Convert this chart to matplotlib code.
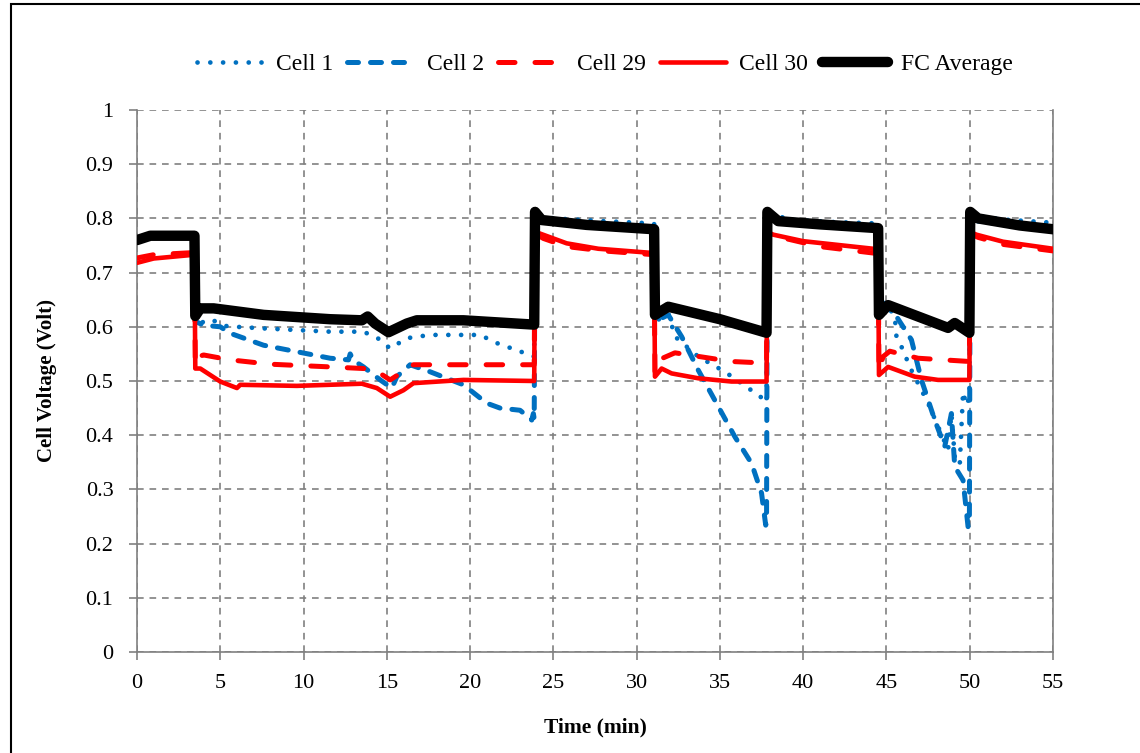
import matplotlib
matplotlib.use("Agg")
import matplotlib.pyplot as plt
from matplotlib.patches import Rectangle

# Cell 1 (dotted)
t_cell1 = [0, 0.8, 3.45,
           3.5, 3.9, 4.4, 5.4, 7.6, 11.6, 13.6, 14.5, 15.2, 16.2, 17.6, 20.6, 21.6, 23.6, 23.85,
           23.9, 24.3, 25, 28, 30.8, 31.05,
           31.1, 31.9, 32.3, 33.7, 35.3, 36.7, 37.7, 37.8,
           37.85, 38.3, 39.5, 42, 44.2, 44.5,
           44.55, 44.9, 45.5, 45.6, 46.0, 46.4, 47.5, 48.1, 48.7, 48.9, 49.1, 49.4, 49.6, 49.8, 49.98,
           50.03, 50.5, 52, 55]
v_cell1 = [0.760, 0.768, 0.768,
           0.606, 0.608, 0.614, 0.601, 0.597, 0.591, 0.591, 0.578, 0.560, 0.579, 0.585, 0.585, 0.570, 0.548, 0.545,
           0.815, 0.805, 0.800, 0.795, 0.791, 0.790,
           0.609, 0.625, 0.582, 0.545, 0.517, 0.487, 0.465, 0.460,
           0.815, 0.805, 0.797, 0.793, 0.791, 0.790,
           0.630, 0.646, 0.619, 0.582, 0.557, 0.526, 0.459, 0.416, 0.373, 0.440, 0.360, 0.345, 0.480, 0.455, 0.470,
           0.815, 0.805, 0.798, 0.792]

# Cell 2 (dashed)
t_cell2 = [0, 0.8, 3.45,
           3.5, 4.0, 5.0, 5.6, 7.6, 9.6, 11.6, 12.7, 12.8, 13.0, 13.6, 14.6, 15.3, 15.6, 16.4, 17.6, 19.6, 21.0, 21.8, 23.0, 23.7, 23.8, 23.85,
           23.9, 24.3, 27, 31.05,
           31.1, 31.9, 32.7, 33.7, 34.9, 35.9, 36.9, 37.5, 37.75, 37.8,
           37.85, 38.5, 41, 44.5,
           44.55, 45.1, 46.5, 47.1, 47.9, 48.5, 48.9, 49.1, 49.6, 49.9, 49.98,
           50.03, 50.5, 53, 55]
v_cell2 = [0.758, 0.766, 0.766,
           0.610, 0.603, 0.600, 0.588, 0.566, 0.554, 0.542, 0.539, 0.550, 0.538, 0.526, 0.502, 0.487, 0.508, 0.530, 0.517, 0.493, 0.459, 0.450, 0.446, 0.428, 0.440, 0.430,
           0.805, 0.795, 0.786, 0.778,
           0.610, 0.622, 0.582, 0.520, 0.453, 0.397, 0.348, 0.293, 0.234, 0.240,
           0.805, 0.793, 0.786, 0.779,
           0.620, 0.643, 0.576, 0.502, 0.428, 0.379, 0.440, 0.342, 0.317, 0.231, 0.240,
           0.805, 0.795, 0.785, 0.780]

# Cell 29 (red dashed)
t_cell29 = [0, 1, 3.45,
            3.5, 3.7, 4.0, 5.6, 8.0, 11.6, 13.6, 14.6, 15.2, 15.8, 16.6, 18.6, 23.85,
            23.9, 24.4, 25.8, 28, 31.05,
            31.1, 31.4, 32.3, 35.7, 37.8,
            37.85, 38.5, 41, 44.5,
            44.55, 44.8, 45.2, 46.9, 49.98,
            50.03, 50.5, 52, 55]
v_cell29 = [0.727, 0.733, 0.737,
            0.530, 0.545, 0.548, 0.539, 0.531, 0.526, 0.523, 0.514, 0.502, 0.514, 0.530, 0.530, 0.530,
            0.772, 0.763, 0.748, 0.740, 0.733,
            0.515, 0.540, 0.552, 0.536, 0.533,
            0.772, 0.766, 0.748, 0.735,
            0.520, 0.545, 0.555, 0.542, 0.536,
            0.772, 0.765, 0.752, 0.740]

# Cell 30 (red solid)
t_cell30 = [0, 1, 3.45,
            3.5, 3.8, 5.0, 6.0, 6.2, 9.6, 13.5, 14.4, 15.2, 16.0, 16.6, 19.6, 23.85,
            23.9, 24.2, 25.8, 27.7, 31.05,
            31.1, 31.5, 32.1, 33.7, 35.7, 37.8,
            37.85, 38.2, 40, 44.5,
            44.55, 45.1, 46.7, 48.1, 49.98,
            50.03, 50.4, 52, 55]
v_cell30 = [0.718, 0.726, 0.733,
            0.523, 0.523, 0.499, 0.487, 0.493, 0.491, 0.495, 0.487, 0.471, 0.483, 0.496, 0.502, 0.500,
            0.775, 0.772, 0.754, 0.744, 0.736,
            0.508, 0.523, 0.514, 0.505, 0.499, 0.499,
            0.775, 0.770, 0.758, 0.743,
            0.511, 0.526, 0.508, 0.502, 0.502,
            0.775, 0.770, 0.757, 0.744]

# FC average (thick black)
t_avg = [0, 0.8, 3.45,
         3.5, 3.8, 4.6, 7.6, 11.6, 13.5, 13.85, 14.3, 15.1, 16.2, 16.8, 19.6, 23.85,
         23.9, 24.3, 27, 31.05,
         31.1, 31.9, 35, 37.8,
         37.85, 38.5, 41, 44.5,
         44.55, 45.1, 48.7, 49.1, 49.98,
         50.03, 50.5, 53, 55]
v_avg = [0.760, 0.768, 0.768,
         0.620, 0.634, 0.634, 0.622, 0.614, 0.612, 0.619, 0.606, 0.590, 0.606, 0.612, 0.612, 0.604,
         0.812, 0.797, 0.788, 0.780,
         0.622, 0.637, 0.614, 0.589,
         0.812, 0.795, 0.789, 0.782,
         0.622, 0.640, 0.598, 0.607, 0.589,
         0.812, 0.800, 0.787, 0.780]

x_ticks = list(range(0, 60, 5))
y_ticks = [0, 0.1, 0.2, 0.3, 0.4, 0.5, 0.6, 0.7, 0.8, 0.9, 1]
y_tick_labels = ["0", "0.1", "0.2", "0.3", "0.4", "0.5", "0.6", "0.7", "0.8", "0.9", "1"]

BLUE = "#0070C0"
RED = "#FF0000"
GREY = "#808080"

plt.rcParams["font.family"] = ["Liberation Serif", "DejaVu Serif"]

fig = plt.figure(figsize=(11.4, 7.53), dpi=100)
ax = fig.add_axes([137 / 1140, 101 / 753, 916 / 1140, 542 / 753])

ax.plot(t_cell1, v_cell1, color=BLUE, lw=3.4, linestyle=(0, (0.01, 2.7)),
        dash_capstyle="round", label="Cell 1", zorder=3)
ax.plot(t_cell2, v_cell2, color=BLUE, lw=3.6, linestyle=(0, (2.2, 2.4)),
        dash_capstyle="round", label="Cell 2", zorder=3)
ax.plot(t_cell29, v_cell29, color=RED, lw=3.6, linestyle=(0, (3.3, 4.0)),
        dash_capstyle="round", label="Cell 29", zorder=4)
ax.plot(t_cell30, v_cell30, color=RED, lw=3.3, solid_capstyle="round",
        solid_joinstyle="round", label="Cell 30", zorder=4)
ax.plot(t_avg, v_avg, color="black", lw=7.5, solid_capstyle="round",
        solid_joinstyle="round", label="FC Average", zorder=5)

ax.set_xlim(0, 55)
ax.set_ylim(0, 1)
ax.set_xticks(x_ticks)
ax.set_yticks(y_ticks)
ax.set_yticklabels(y_tick_labels)

ax.grid(True, color=GREY, linestyle=(0, (4, 3.5)), lw=1.2)
ax.set_axisbelow(True)
for s in ax.spines.values():
    s.set_color(GREY)
    s.set_linewidth(1.2)
ax.spines["top"].set_visible(False)

ax.tick_params(axis="both", direction="out", length=6, width=1.2, color=GREY,
               labelsize=16, labelcolor="black")
ax.tick_params(axis="x", pad=10)
ax.tick_params(axis="y", pad=11)

ax.set_xlabel("Time (min)", fontsize=15.5, fontweight="bold")
ax.set_ylabel("Cell Voltage (Volt)", fontsize=15, fontweight="bold")
ax.xaxis.set_label_coords(458 / 916, -75 / 542)
ax.xaxis.label.set_va("center")
ax.yaxis.set_label_coords(-90 / 916, 271 / 542)
ax.yaxis.label.set_va("center")

fig.legend(loc="center", bbox_to_anchor=(605 / 1140, 1 - 64 / 753), ncol=5,
           frameon=False, fontsize=17, handlelength=2.8, handletextpad=0.55,
           columnspacing=0.6, borderaxespad=0)

# outer frame of the figure (runs off the right and bottom edges)
fig.patches.append(Rectangle((11 / 1140, -0.5), 2, 0.5 + (1 - 4 / 753),
                             transform=fig.transFigure, fill=False,
                             ec="black", lw=1.5, clip_on=False))

fig.savefig("out.png", dpi=100)
